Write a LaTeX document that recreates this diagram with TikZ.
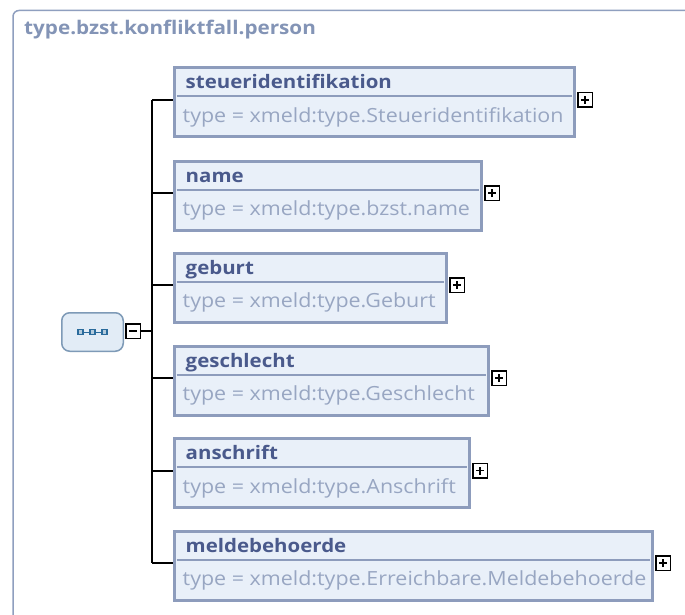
\documentclass[tikz,border=0pt]{standalone}
\usepackage{fontspec}
\setmainfont[FakeStretch=1.1]{Open Sans}
\usetikzlibrary{positioning}

\definecolor{framecol}{RGB}{143,159,191}
\definecolor{titlecol}{RGB}{131,148,182}
\definecolor{boxline}{RGB}{141,156,188}
\definecolor{boxfill}{RGB}{233,240,249}
\definecolor{namecol}{RGB}{74,90,140}
\definecolor{typecol}{RGB}{152,166,194}
\definecolor{seqfill}{RGB}{226,236,246}
\definecolor{seqline}{RGB}{126,154,183}
\definecolor{seqicon}{RGB}{42,107,156}

\tikzset{
  elbox/.style={draw=boxline, fill=boxfill, line width=3pt, minimum height=69pt, anchor=north west, inner sep=0pt},
  divline/.style={draw=boxline, line width=2pt},
  elname/.style={font=\fontsize{18.6}{22}\selectfont\bfseries, text=namecol, anchor=base west, inner sep=0pt},
  eltype/.style={font=\fontsize{19.5}{22}\selectfont, text=typecol, anchor=base west, inner sep=0pt},
  plusbox/.style={draw=black, fill=white, line width=1.5pt, minimum size=14.5pt, inner sep=0pt, anchor=west,
    path picture={\draw[line width=1.6pt] ([xshift=-4pt]path picture bounding box.center) -- ([xshift=4pt]path picture bounding box.center);
                  \draw[line width=1.6pt] ([yshift=-4pt]path picture bounding box.center) -- ([yshift=4pt]path picture bounding box.center);}},
  minusbox/.style={draw=black, fill=white, line width=1.5pt, minimum size=14.5pt, inner sep=0pt,
    path picture={\draw[line width=1.6pt] ([xshift=-4pt]path picture bounding box.center) -- ([xshift=4pt]path picture bounding box.center);}},
  conn/.style={draw=black, line width=2pt},
}

\begin{document}
\begin{tikzpicture}[x=1pt, y=-1pt]
\useasboundingbox (0,0) rectangle (685,615);
\clip (0,0) rectangle (685,615);
\fill[white] (0,0) rectangle (685,615);
\draw[framecol, line width=1.5pt, rounded corners=6pt] (13,10.5) rectangle (720,650);
\node[font=\fontsize{18.8}{22}\selectfont\bfseries, text=titlecol, anchor=base west, inner sep=0pt] (title) at (24,35) {type.bzst.konfliktfall.person};

% sequence compositor
\node[draw=seqline, fill=seqfill, line width=1.5pt, rounded corners=8pt, minimum width=61.5pt, minimum height=38.5pt] (seq) at (92.5,332) {};
\draw[seqicon, line width=1pt] ([xshift=-12pt]seq.center) -- ([xshift=12pt]seq.center);
\foreach \dx in {-12,0,12} \filldraw[draw=seqicon, fill=seqicon!35, line width=1.4pt] ([xshift=\dx pt]seq.center) +(-2.6,-2.6) rectangle +(2.6,2.6);
\node[minusbox] (minus) at (133,331) {};
\coordinate (fork) at (152,331);
\draw[conn] (minus.east) -- (fork);

% elements
\node[elbox, minimum width=400pt] (steuer) at (172.5,66.5) {};
\draw[divline] ([xshift=4pt,yshift=-30pt]steuer.north west) -- ([xshift=-4pt,yshift=-30pt]steuer.north east);
\node[elname] (steuer-n) at ([xshift=13pt,yshift=-22.5pt]steuer.north west) {steueridentifikation};
\node[eltype] (steuer-t) at ([xshift=10pt,yshift=-56pt]steuer.north west) {type = xmeld:type.Steueridentifikation};
\node[plusbox] (steuer-p) at ([xshift=1.5pt,yshift=-33.5pt]steuer.north east) {};

\node[elbox, minimum width=307pt] (name) at (172.5,159.5) {};
\draw[divline] ([xshift=4pt,yshift=-30pt]name.north west) -- ([xshift=-4pt,yshift=-30pt]name.north east);
\node[elname] (name-n) at ([xshift=13pt,yshift=-22.5pt]name.north west) {name};
\node[eltype] (name-t) at ([xshift=10pt,yshift=-56pt]name.north west) {type = xmeld:type.bzst.name};
\node[plusbox] (name-p) at ([xshift=1.5pt,yshift=-33.5pt]name.north east) {};

\node[elbox, minimum width=272pt] (geburt) at (172.5,251.5) {};
\draw[divline] ([xshift=4pt,yshift=-30pt]geburt.north west) -- ([xshift=-4pt,yshift=-30pt]geburt.north east);
\node[elname] (geburt-n) at ([xshift=13pt,yshift=-22.5pt]geburt.north west) {geburt};
\node[eltype] (geburt-t) at ([xshift=10pt,yshift=-56pt]geburt.north west) {type = xmeld:type.Geburt};
\node[plusbox] (geburt-p) at ([xshift=1.5pt,yshift=-33.5pt]geburt.north east) {};

\node[elbox, minimum width=314pt] (geschl) at (172.5,344.5) {};
\draw[divline] ([xshift=4pt,yshift=-30pt]geschl.north west) -- ([xshift=-4pt,yshift=-30pt]geschl.north east);
\node[elname] (geschl-n) at ([xshift=13pt,yshift=-22.5pt]geschl.north west) {geschlecht};
\node[eltype] (geschl-t) at ([xshift=10pt,yshift=-56pt]geschl.north west) {type = xmeld:type.Geschlecht};
\node[plusbox] (geschl-p) at ([xshift=1.5pt,yshift=-33.5pt]geschl.north east) {};

\node[elbox, minimum width=295pt] (anschr) at (172.5,437) {};
\draw[divline] ([xshift=4pt,yshift=-30pt]anschr.north west) -- ([xshift=-4pt,yshift=-30pt]anschr.north east);
\node[elname] (anschr-n) at ([xshift=13pt,yshift=-22.5pt]anschr.north west) {anschrift};
\node[eltype] (anschr-t) at ([xshift=10pt,yshift=-56pt]anschr.north west) {type = xmeld:type.Anschrift};
\node[plusbox] (anschr-p) at ([xshift=1.5pt,yshift=-33.5pt]anschr.north east) {};

\node[elbox, minimum width=478pt] (melde) at (172.5,529.5) {};
\draw[divline] ([xshift=4pt,yshift=-30pt]melde.north west) -- ([xshift=-4pt,yshift=-30pt]melde.north east);
\node[elname] (melde-n) at ([xshift=13pt,yshift=-22.5pt]melde.north west) {meldebehoerde};
\node[eltype] (melde-t) at ([xshift=10pt,yshift=-56pt]melde.north west) {type = xmeld:type.Erreichbare.Meldebehoerde};
\node[plusbox] (melde-p) at ([xshift=1.5pt,yshift=-33.5pt]melde.north east) {};

% connectors
\draw[conn] (fork |- steuer-p) -- (fork |- melde-p);
\draw[conn] (fork |- steuer-p) -- (steuer.west |- steuer-p);
\draw[conn] (fork |- name-p) -- (name.west |- name-p);
\draw[conn] (fork |- geburt-p) -- (geburt.west |- geburt-p);
\draw[conn] (fork |- geschl-p) -- (geschl.west |- geschl-p);
\draw[conn] (fork |- anschr-p) -- (anschr.west |- anschr-p);
\draw[conn] (fork |- melde-p) -- (melde.west |- melde-p);

\end{tikzpicture}
\end{document}
